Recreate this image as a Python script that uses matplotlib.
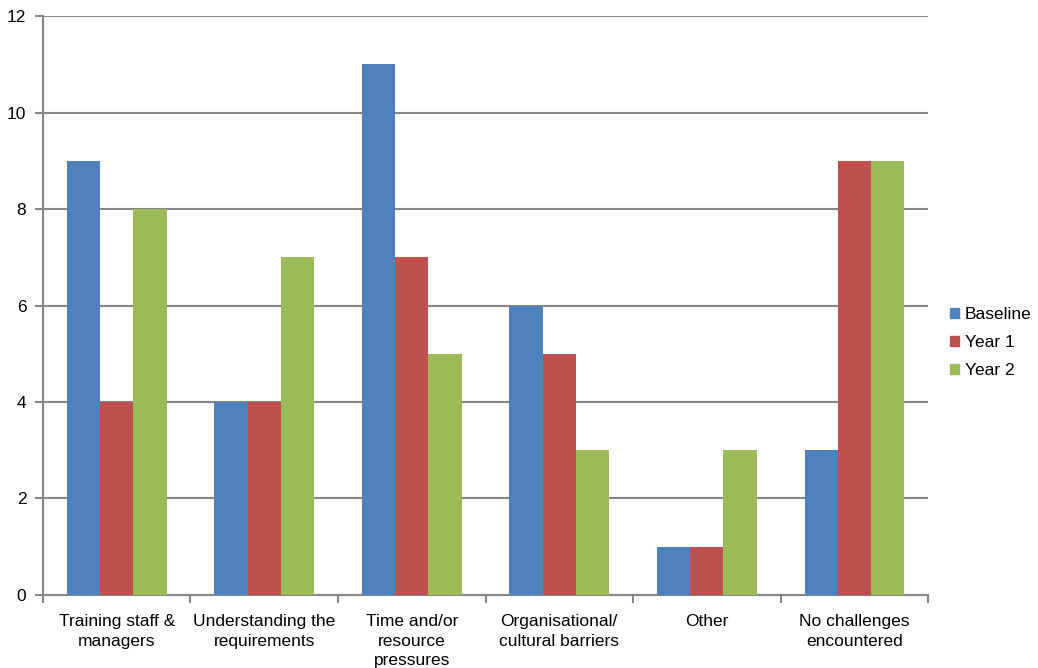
import numpy as np
import matplotlib.pyplot as plt
from matplotlib.patches import Patch

plt.rcParams['font.family'] = ['Liberation Sans', 'DejaVu Sans']

categories = ['Training staff &\nmanagers', 'Understanding the\nrequirements',
              'Time and/or\nresource\npressures', 'Organisational/\ncultural barriers',
              'Other', 'No challenges\nencountered']
baseline = [9, 4, 11, 6, 1, 3]
year1 = [4, 4, 7, 5, 1, 9]
year2 = [8, 7, 5, 3, 3, 9]
series_names = ['Baseline', 'Year 1', 'Year 2']
colors = ['#4F81BD', '#C0504D', '#9BBB59']

fig = plt.figure(figsize=(10.38, 6.68), dpi=100)
ax = fig.add_axes([0.0414, 0.1093, 0.8527, 0.8667])

x = np.arange(len(categories))
w = 0.225
for i, (vals, c) in enumerate(zip([baseline, year1, year2], colors)):
    ax.bar(x + (i - 1) * w, vals, width=w, color=c, zorder=3)

grid_col = '#868686'
ax.set_ylim(0, 12)
ax.set_xlim(-0.5, len(categories) - 0.5)
ax.set_yticks(range(0, 13, 2))
ax.yaxis.grid(True, color=grid_col, linewidth=1.5, zorder=0)
ax.tick_params(axis='y', length=6, width=1.5, color=grid_col, labelsize=12.5, pad=6)

ax.set_xticks(x)
ax.set_xticklabels(categories, fontsize=12.5, linespacing=1.35)
ax.tick_params(axis='x', length=0, pad=14)
ax.set_xticks(np.arange(-0.5, len(categories), 1), minor=True)
ax.tick_params(axis='x', which='minor', length=6, width=1.5, color=grid_col)

for s in ['top', 'right']:
    ax.spines[s].set_visible(False)
for s in ['left', 'bottom']:
    ax.spines[s].set_color(grid_col)
    ax.spines[s].set_linewidth(1.5)

handles = [Patch(color=c, label=n) for c, n in zip(colors, series_names)]
fig.legend(handles=handles, loc='center left', bbox_to_anchor=(0.9, 0.487),
           frameon=False, fontsize=12.5, handlelength=0.55, handleheight=0.55,
           handletextpad=0.3, labelspacing=0.75)

fig.savefig('out.png', dpi=100)
